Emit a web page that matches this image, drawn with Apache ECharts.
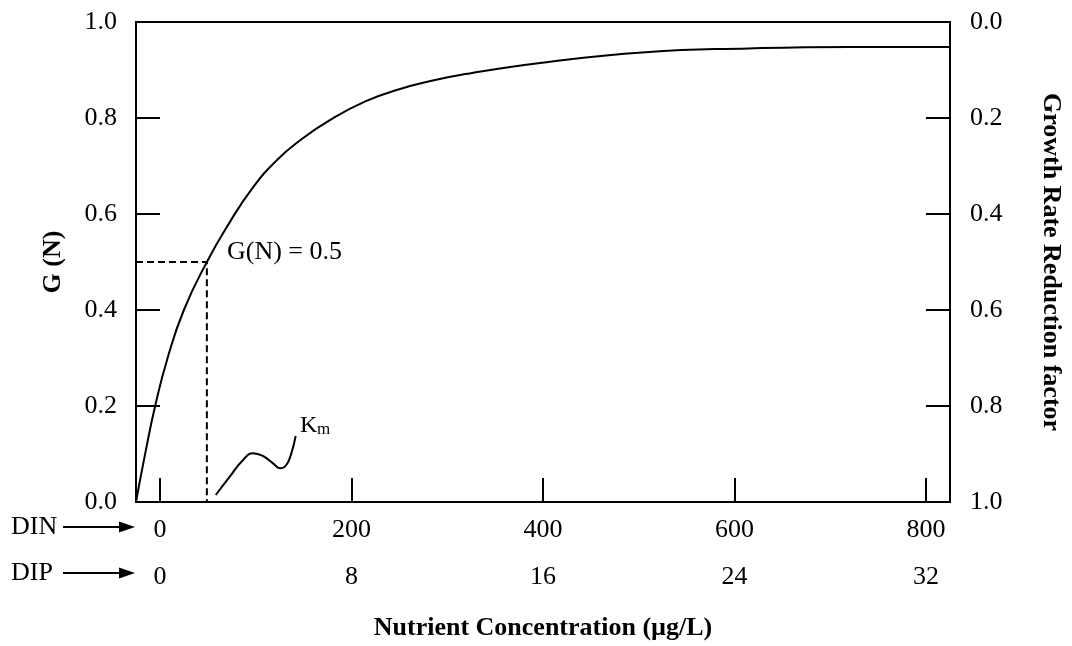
<!DOCTYPE html>
<html>
<head>
<meta charset="utf-8">
<script src="https://cdn.jsdelivr.net/npm/echarts@6/dist/echarts.min.js"></script>
<style>html,body{margin:0;padding:0;background:#fff}#c{width:1072px;height:646px}</style>
</head>
<body>
<div id="c"></div>
<script>
// ---- data ----
var curveN = [-25, -15, -5, 8, 25, 49, 72, 97, 122, 146, 177, 215, 250, 285, 312, 399, 507, 615, 722, 825];
var curveG = [0, 0.105, 0.2, 0.3, 0.4, 0.5, 0.58, 0.655, 0.712, 0.753, 0.795, 0.835, 0.86, 0.878, 0.889, 0.915, 0.937, 0.945, 0.948, 0.948];
var halfN = [-25, 49, 49];
var halfG = [0.5, 0.5, 0];
var kmN = [58.3, 72.9, 86.8, 97.2, 107.6, 118.1, 125.7, 131.9, 137.2, 141.7];
var kmG = [0.0146, 0.0527, 0.0875, 0.1014, 0.0958, 0.0806, 0.0702, 0.0771, 0.1014, 0.1375];
var dinTicks = [0, 200, 400, 600, 800];
var dipTicks = [0, 8, 16, 24, 32];
var dinRange = [-25, 825];
var dipPerDin = 1 / 25;

var FONT = "'Liberation Serif', 'Times New Roman', serif";
function zip(a, b) { return a.map(function (v, i) { return [v, b[i]]; }); }

var chart = echarts.init(document.getElementById('c'), null, {renderer: 'canvas'});
var axisLine = {show: true, onZero: false, lineStyle: {color: '#000', width: 2}};
var tick = {show: true, inside: true, length: 24, lineStyle: {color: '#000', width: 2}};
var lbl = {color: '#000', fontFamily: FONT, fontSize: 26};

chart.setOption({
  animation: false,
  backgroundColor: '#fff',
  grid: {left: 136, right: 120, top: 22, bottom: 144, show: true, borderColor: '#000', borderWidth: 2, backgroundColor: 'transparent'},
  xAxis: [{
    type: 'value', min: dinRange[0], max: dinRange[1], position: 'bottom',
    axisLine: axisLine,
    axisTick: Object.assign({customValues: dinTicks}, tick),
    axisLabel: Object.assign({customValues: dinTicks, margin: 15, lineHeight: 26}, lbl),
    splitLine: {show: false},
    name: 'Nutrient Concentration (\u00b5g/L)', nameLocation: 'middle', nameGap: 113,
    nameTextStyle: {color: '#000', fontFamily: FONT, fontSize: 26, fontWeight: 'bold'}
  }, {
    type: 'value', min: dinRange[0] * dipPerDin, max: dinRange[1] * dipPerDin, position: 'bottom', offset: 47,
    axisLine: {show: false, onZero: false}, axisTick: {show: false},
    axisLabel: Object.assign({customValues: dipTicks, margin: 15, lineHeight: 26}, lbl),
    splitLine: {show: false}
  }],
  yAxis: [{
    type: 'value', min: 0, max: 1, interval: 0.2, position: 'left',
    axisLine: axisLine, axisTick: tick,
    axisLabel: Object.assign({margin: 19, padding: [8, 0, 0, 0], formatter: function (v) { return v.toFixed(1); }}, lbl),
    splitLine: {show: false},
    name: 'G (N)', nameLocation: 'middle', nameGap: 70,
    nameTextStyle: {color: '#000', fontFamily: FONT, fontSize: 26, fontWeight: 'bold'}
  }, {
    type: 'value', min: 0, max: 1, interval: 0.2, position: 'right', inverse: true,
    axisLine: axisLine, axisTick: tick,
    axisLabel: Object.assign({margin: 20, padding: [8, 0, 0, 0], formatter: function (v) { return v.toFixed(1); }}, lbl),
    splitLine: {show: false},
    name: 'Growth Rate Reduction factor', nameLocation: 'middle', nameGap: 88, nameRotate: -90,
    nameTextStyle: {color: '#000', fontFamily: FONT, fontSize: 26, fontWeight: 'bold'}
  }],
  series: [{
    type: 'line', data: zip(curveN, curveG), smooth: 0.5, symbol: 'none',
    lineStyle: {color: '#000', width: 2}
  }, {
    type: 'line', data: zip(halfN, halfG), symbol: 'none',
    lineStyle: {color: '#000', width: 2, type: [7, 4]}
  }, {
    type: 'line', data: zip(kmN, kmG), smooth: 0.5, symbol: 'none',
    lineStyle: {color: '#000', width: 2}
  }],
  graphic: [
    {type: 'text', left: 227, top: 239, style: {text: 'G(N) = 0.5', font: '26px ' + FONT, fill: '#000'}},
    {type: 'text', x: 300, y: 426, style: {text: 'K', font: '24px ' + FONT, fill: '#000', verticalAlign: 'middle'}},
    {type: 'text', x: 317, y: 430, style: {text: 'm', font: '17px ' + FONT, fill: '#000', verticalAlign: 'middle'}},
    {type: 'text', x: 11, y: 527, style: {text: 'DIN', font: '26px ' + FONT, fill: '#000', verticalAlign: 'middle'}},
    {type: 'text', x: 11, y: 573, style: {text: 'DIP', font: '26px ' + FONT, fill: '#000', verticalAlign: 'middle'}},
    {type: 'line', shape: {x1: 63, y1: 527, x2: 122, y2: 527}, style: {stroke: '#000', lineWidth: 2}},
    {type: 'polygon', shape: {points: [[119, 521.5], [135, 527], [119, 532.5]]}, style: {fill: '#000'}},
    {type: 'line', shape: {x1: 63, y1: 573, x2: 122, y2: 573}, style: {stroke: '#000', lineWidth: 2}},
    {type: 'polygon', shape: {points: [[119, 567.5], [135, 573], [119, 578.5]]}, style: {fill: '#000'}}
  ]
});
</script>
</body>
</html>
